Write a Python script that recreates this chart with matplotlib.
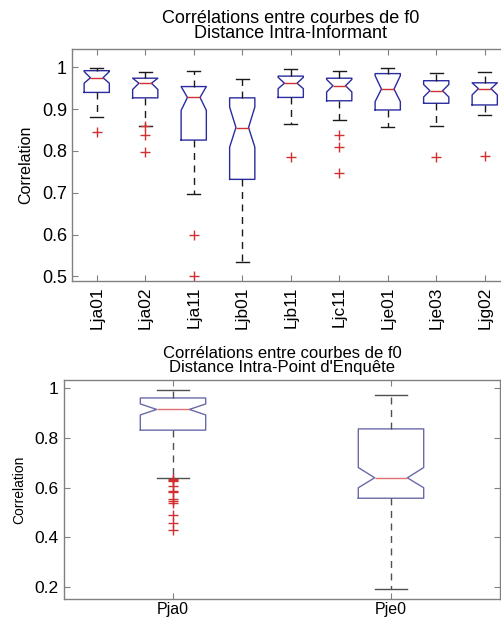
import numpy as np
import matplotlib
matplotlib.use('Agg')
import matplotlib.pyplot as plt

plt.rcParams['font.family'] = ['Liberation Sans', 'DejaVu Sans']

# intra-speaker correlations (one box per speaker)
spk_names = ['Lja01', 'Lja02', 'Lja11', 'Ljb01', 'Ljb11', 'Ljc11', 'Lje01', 'Lje03', 'Ljg02']
spk_med = [0.975, 0.962, 0.928, 0.856, 0.962, 0.956, 0.948, 0.944, 0.949]
spk_q1 = [0.940, 0.927, 0.826, 0.732, 0.928, 0.920, 0.898, 0.914, 0.910]
spk_q3 = [0.992, 0.974, 0.954, 0.927, 0.979, 0.974, 0.985, 0.968, 0.963]
spk_lo = [0.880, 0.860, 0.696, 0.535, 0.864, 0.873, 0.858, 0.860, 0.886]
spk_hi = [0.998, 0.988, 0.992, 0.973, 0.995, 0.991, 0.998, 0.987, 0.989]
spk_cilo = [0.962, 0.947, 0.897, 0.809, 0.949, 0.941, 0.918, 0.929, 0.934]
spk_cihi = [0.990, 0.974, 0.954, 0.905, 0.976, 0.971, 0.980, 0.959, 0.963]
spk_out = [[0.846], [0.859, 0.837, 0.798], [0.598, 0.502], [], [0.786],
           [0.839, 0.809, 0.748], [], [0.786], [0.788]]

# intra-location correlations
loc_names = ['Pja0', 'Pje0']
loc_med = [0.913, 0.639]
loc_q1 = [0.830, 0.557]
loc_q3 = [0.959, 0.835]
loc_lo = [0.639, 0.193]
loc_hi = [0.990, 0.971]
loc_cilo = [0.891, 0.599]
loc_cihi = [0.935, 0.680]
loc_out = [[0.636, 0.632, 0.627, 0.606, 0.586, 0.580, 0.553, 0.545, 0.539, 0.490, 0.459, 0.430], []]


def make_stats(names, med, q1, q3, lo, hi, cilo, cihi, out):
    st = []
    for i in range(len(names)):
        st.append(dict(label=names[i], med=med[i], q1=q1[i], q3=q3[i],
                       whislo=lo[i], whishi=hi[i], cilo=cilo[i], cihi=cihi[i],
                       fliers=np.array(out[i])))
    return st


def style_axes(ax, fs):
    for s in ax.spines.values():
        s.set_color('#808080')
        s.set_linewidth(1.0)
    ax.tick_params(direction='in', top=True, right=True, length=4,
                   color='#808080', labelsize=fs, pad=4)
    ax.set_facecolor('white')


def draw(ax, stats, width, box_c, med_c, wh_c, fl_c, ms):
    ax.bxp(stats, widths=width, shownotches=True, patch_artist=False,
           boxprops=dict(color=box_c, linewidth=1.0),
           medianprops=dict(color=med_c, linewidth=1.0),
           whiskerprops=dict(color=wh_c, linewidth=1.0, linestyle=(0, (5, 4))),
           capprops=dict(color=wh_c, linewidth=1.0),
           flierprops=dict(marker='+', markeredgecolor=fl_c, markersize=ms,
                           markeredgewidth=1.0, linestyle='none'))


fig = plt.figure(figsize=(5.02, 6.19), dpi=100, facecolor='white')

ax1 = fig.add_axes([0.1444, 0.5460, 0.8695, 0.3748])
draw(ax1, make_stats(spk_names, spk_med, spk_q1, spk_q3, spk_lo, spk_hi,
                     spk_cilo, spk_cihi, spk_out),
     0.52, '#2b2ba0', '#d03030', '#1a1a1a', '#d03030', 6.5)
ax1.set_xlim(0.5, 9.5)
ax1.set_ylim(0.4888, 1.0438)
ax1.set_yticks([0.5, 0.6, 0.7, 0.8, 0.9, 1.0])
ax1.set_yticklabels(['0.5', '0.6', '0.7', '0.8', '0.9', '1'])
style_axes(ax1, 13)
ax1.set_xticklabels(spk_names, rotation=90, fontsize=12.5)
ax1.set_ylabel('Correlation', fontsize=11.5, labelpad=6)
ax1.set_title('Corrélations entre courbes de f0\nDistance Intra-Informant',
              fontsize=13, linespacing=0.85, pad=8)

ax2 = fig.add_axes([0.1275, 0.0323, 0.8685, 0.3538])
draw(ax2, make_stats(loc_names, loc_med, loc_q1, loc_q3, loc_lo, loc_hi,
                     loc_cilo, loc_cihi, loc_out),
     0.30, '#6a6aaa', '#e07070', '#505050', '#d03030', 7)
ax2.set_xlim(0.5, 2.5)
ax2.set_ylim(0.153, 1.031)
ax2.set_yticks([0.2, 0.4, 0.6, 0.8, 1.0])
ax2.set_yticklabels(['0.2', '0.4', '0.6', '0.8', '1'])
style_axes(ax2, 12.5)
ax2.tick_params(axis='x', labelsize=11.5, pad=2)
ax2.set_ylabel('Correlation', fontsize=10, labelpad=6)
ax2.set_title("Corrélations entre courbes de f0\nDistance Intra-Point d'Enquête",
              fontsize=12, linespacing=0.85, pad=6)

fig.savefig('out.png', dpi=100)
